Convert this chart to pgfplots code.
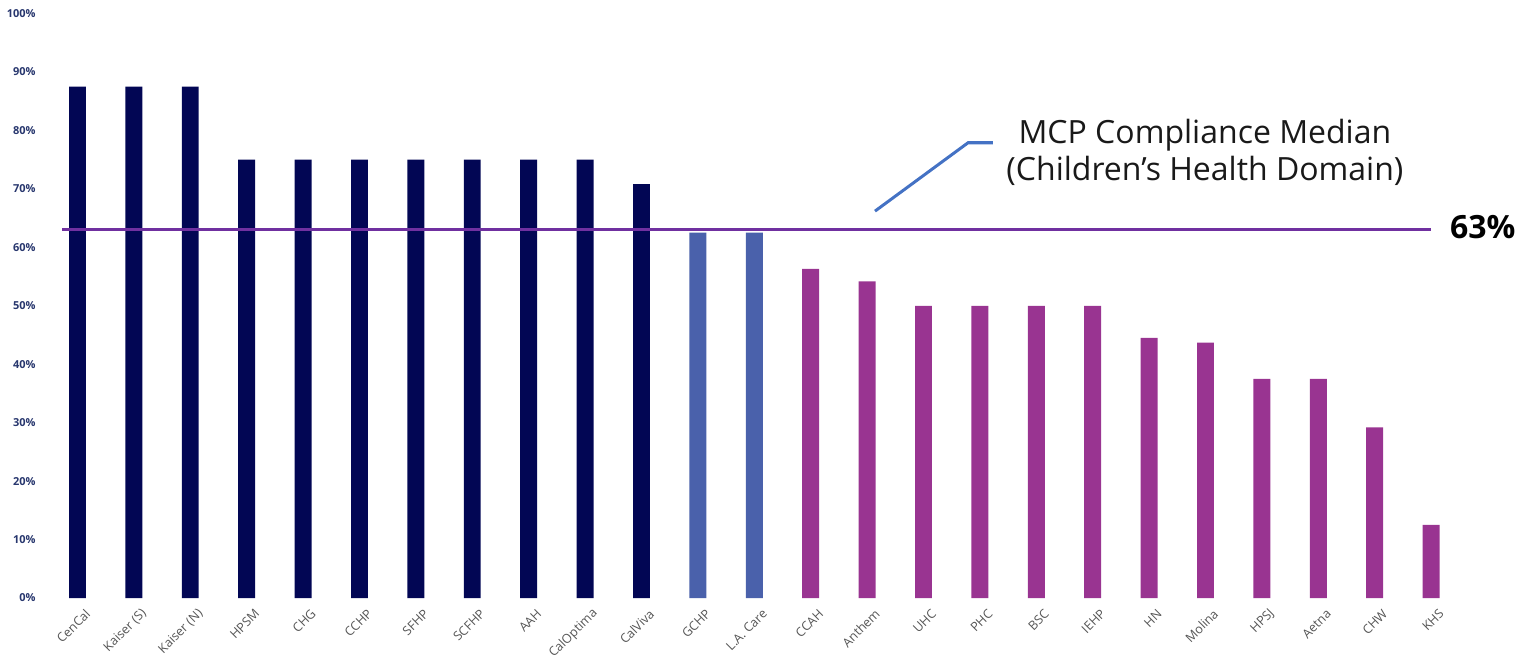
\documentclass[border=0pt]{standalone}
\usepackage{pgfplots}
\pgfplotsset{compat=1.18}
\usepackage{fontspec}
\setmainfont{Open Sans}
\definecolor{navybar}{RGB}{2,6,84}
\definecolor{bluebar}{RGB}{74,97,171}
\definecolor{purplebar}{RGB}{153,52,145}
\definecolor{medline}{RGB}{112,48,160}
\definecolor{callout}{RGB}{68,114,196}
\definecolor{ytext}{RGB}{40,55,110}
\definecolor{xtext}{RGB}{85,85,85}
\begin{document}
\begin{tikzpicture}
\useasboundingbox (0,0) rectangle (767pt,329.5pt);
\begin{axis}[
  at={(19pt,30.5pt)}, anchor=south west,
  scale only axis, width=719.1pt, height=292.2pt,
  xmin=-0.7, xmax=24.8, ymin=0, ymax=100,
  axis line style={draw=none}, tick style={draw=none},
  major tick length=0pt,
  /pgf/number format/assume math mode=true,
  ytick={0,10,...,100},
  yticklabel={\pgfmathprintnumber{\tick}\%},
  yticklabel style={font=\fontsize{5.5}{6}\selectfont\bfseries, text=ytext, anchor=east, inner sep=1pt},
  xtick={0,1,...,24},
  xticklabels={CenCal,Kaiser (S),Kaiser (N),HPSM,CHG,CCHP,SFHP,SCFHP,AAH,CalOptima,CalViva,GCHP,L.A. Care,CCAH,Anthem,UHC,PHC,BSC,IEHP,HN,Molina,HPSJ,Aetna,CHW,KHS},
  xticklabel style={rotate=45, anchor=east, font=\fontsize{6.3}{7}\selectfont, text=xtext, inner sep=1pt, yshift=-8.5pt},
  clip=false,
  bar width=0.3,
]
\addplot[ybar, bar shift=0pt, fill=navybar, draw=none] coordinates {
 (0,87.5) (1,87.5) (2,87.5) (3,75) (4,75) (5,75) (6,75) (7,75) (8,75) (9,75) (10,70.8)};
\addplot[ybar, bar shift=0pt, fill=bluebar, draw=none] coordinates {
 (11,62.5) (12,62.5)};
\addplot[ybar, bar shift=0pt, fill=purplebar, draw=none] coordinates {
 (13,56.3) (14,54.2) (15,50) (16,50) (17,50) (18,50) (19,44.5) (20,43.7) (21,37.5) (22,37.5) (23,29.2) (24,12.5)};
\addplot[medline, line width=1.5pt] coordinates {(-0.27,63) (24.0,63)};
\addplot[callout, line width=1.5pt] coordinates {(14.14,66.2) (15.79,77.9) (16.23,77.9)};
\node[anchor=west, inner sep=0pt, font=\fontsize{16}{18}\selectfont\bfseries] at (axis cs:24.33,63.5) {63\%};
\node[anchor=base, inner sep=0pt, font=\fontsize{16}{19}\selectfont, text=black!90] at (axis cs:19.99,77.7) {MCP Compliance Median};
\node[anchor=base, inner sep=0pt, font=\fontsize{16}{19}\selectfont, text=black!90] at (axis cs:19.99,71.4) {(Children’s Health Domain)};
\end{axis}
\end{tikzpicture}
\end{document}
